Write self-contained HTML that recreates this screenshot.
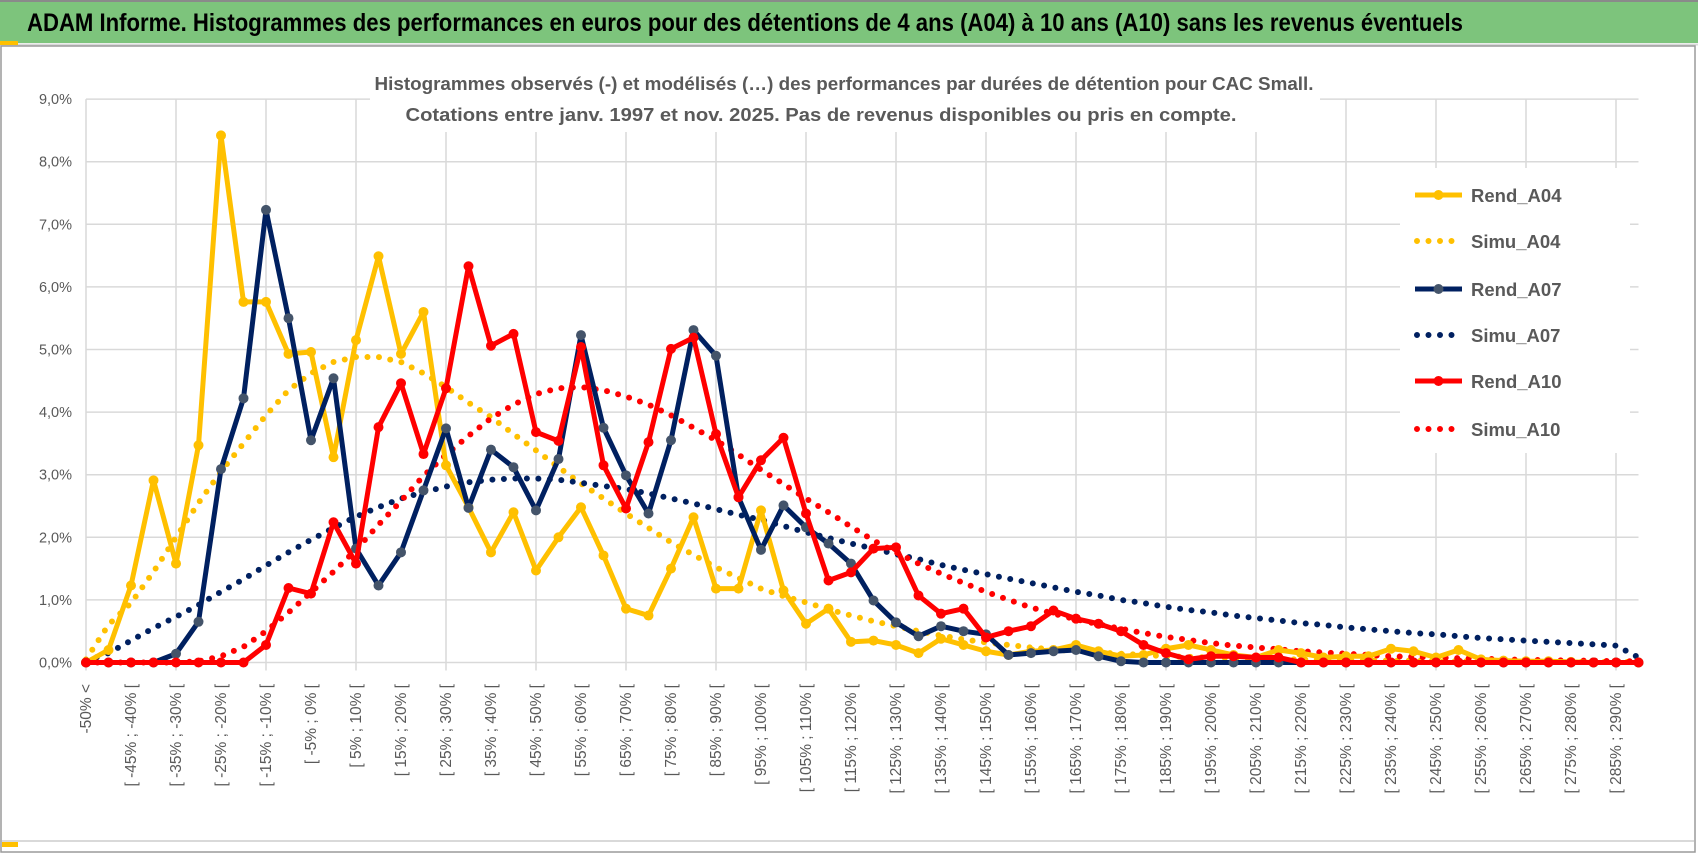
<!DOCTYPE html>
<html><head><meta charset="utf-8"><style>
html,body{margin:0;padding:0;background:#fff;}
svg{display:block;font-family:"Liberation Sans",sans-serif;}
</style></head><body>
<svg id="chart" width="1698" height="854" viewBox="0 0 1698 854" xmlns="http://www.w3.org/2000/svg">
<rect x="0" y="0" width="1698" height="854" fill="#fff"/>
<rect x="0" y="0" width="1698" height="43" fill="#7dc47c"/>
<line x1="0" y1="1" x2="1698" y2="1" stroke="#8a8a8a" stroke-width="2"/>
<line x1="0" y1="44.5" x2="1698" y2="44.5" stroke="#d9d9d9" stroke-width="2"/>
<rect x="0" y="41" width="18" height="4" fill="#ffc000"/>
<text x="27" y="31" font-size="25" font-weight="bold" fill="#000" textLength="1436" lengthAdjust="spacingAndGlyphs">ADAM Informe. Histogrammes des performances en euros pour des détentions de 4 ans (A04) à 10 ans (A10) sans les revenus éventuels</text>
<rect x="1" y="46" width="1694" height="806" fill="none" stroke="#9a9a9a" stroke-width="1.5"/>
<line x1="2" y1="841" x2="1694" y2="841" stroke="#d9d9d9" stroke-width="2"/>
<rect x="2" y="842" width="16" height="5" fill="#ffc000"/>
<g id="grid"></g>
<g id="yaxis"></g>
<g id="xaxis"></g>
<g id="series"></g>
<rect x="370" y="60" width="950" height="72" fill="#fff"/>
<text x="844" y="90" text-anchor="middle" font-size="18.5" font-weight="bold" fill="#595959" textLength="939" lengthAdjust="spacingAndGlyphs">Histogrammes observés (-) et modélisés (…) des performances par durées de détention pour CAC Small.</text>
<text x="821" y="121" text-anchor="middle" font-size="18.5" font-weight="bold" fill="#595959" textLength="831" lengthAdjust="spacingAndGlyphs">Cotations entre janv. 1997 et nov. 2025. Pas de revenus disponibles ou pris en compte.</text>
<g id="legend"></g>
</svg>
<script>
const categories = ["-50% <"];
for (let k = -50; k < 295; k += 5) categories.push("[ " + k + "% ; " + (k + 5) + "% [");
const yTicks = ["0,0%","1,0%","2,0%","3,0%","4,0%","5,0%","6,0%","7,0%","8,0%","9,0%"];
const yTickValues = [0,1,2,3,4,5,6,7,8,9];
const rendA04 = [0,0.2,1.23,2.91,1.58,3.47,8.42,5.76,5.76,4.93,4.96,3.28,5.15,6.49,4.93,5.6,3.15,2.48,1.76,2.4,1.47,2.0,2.48,1.71,0.86,0.75,1.5,2.32,1.18,1.18,2.43,1.15,0.62,0.86,0.33,0.35,0.28,0.15,0.38,0.28,0.18,0.12,0.18,0.2,0.28,0.18,0.1,0.12,0.22,0.28,0.2,0.12,0.08,0.2,0.15,0.08,0.1,0.1,0.22,0.18,0.08,0.2,0.05,0.03,0.02,0.02,0.01,0,0,0];
const simuA04 = [0.05,0.6,0.95,1.45,2.0,2.55,3.05,3.5,3.95,4.35,4.62,4.8,4.88,4.88,4.8,4.62,4.4,4.15,3.92,3.65,3.39,3.12,2.86,2.62,2.38,2.15,1.92,1.72,1.52,1.35,1.18,1.06,0.96,0.85,0.75,0.66,0.58,0.5,0.43,0.37,0.32,0.28,0.24,0.21,0.18,0.16,0.14,0.12,0.1,0.09,0.08,0.07,0.06,0.05,0.05,0.04,0.04,0.03,0.03,0.03,0.02,0.02,0.02,0.02,0.01,0.01,0.01,0.01,0.01,0.01];
const rendA07 = [0,0,0,0,0.14,0.65,3.09,4.22,7.23,5.5,3.55,4.54,1.82,1.23,1.76,2.75,3.74,2.47,3.4,3.12,2.43,3.25,5.23,3.75,2.99,2.38,3.55,5.31,4.9,2.64,1.8,2.51,2.16,1.9,1.58,0.99,0.64,0.42,0.58,0.5,0.45,0.12,0.15,0.18,0.2,0.1,0.02,0,0,0,0,0,0,0,0,0,0,0,0,0,0,0,0,0,0,0,0,0,0,0];
const simuA07 = [0.03,0.15,0.35,0.55,0.73,0.92,1.13,1.33,1.55,1.76,1.96,2.15,2.33,2.48,2.62,2.72,2.81,2.88,2.92,2.94,2.94,2.92,2.87,2.82,2.77,2.7,2.62,2.54,2.45,2.36,2.28,2.18,2.08,1.99,1.9,1.82,1.73,1.65,1.56,1.48,1.41,1.34,1.27,1.2,1.13,1.07,1.0,0.95,0.89,0.84,0.8,0.75,0.71,0.67,0.63,0.6,0.56,0.53,0.5,0.47,0.45,0.42,0.39,0.37,0.35,0.33,0.31,0.29,0.27,0.08];
const rendA10 = [0,0,0,0,0,0,0,0,0.28,1.19,1.1,2.24,1.58,3.76,4.46,3.33,4.38,6.33,5.06,5.25,3.68,3.54,5.04,3.15,2.46,3.52,5.01,5.19,3.65,2.64,3.23,3.59,2.38,1.31,1.44,1.82,1.84,1.07,0.78,0.86,0.4,0.5,0.58,0.83,0.7,0.62,0.5,0.28,0.15,0.05,0.1,0.1,0.08,0.08,0,0,0,0,0,0,0,0,0,0,0,0,0,0,0,0];
const simuA10 = [0,0,0,0,0,0.02,0.1,0.25,0.5,0.8,1.12,1.45,1.8,2.2,2.58,2.98,3.32,3.62,3.9,4.12,4.29,4.38,4.4,4.35,4.25,4.12,3.95,3.75,3.55,3.32,3.08,2.85,2.62,2.4,2.17,1.95,1.76,1.58,1.42,1.27,1.13,1.0,0.88,0.78,0.69,0.61,0.54,0.47,0.41,0.36,0.31,0.27,0.24,0.21,0.18,0.16,0.14,0.12,0.1,0.09,0.08,0.07,0.06,0.05,0.04,0.04,0.03,0.03,0.02,0.02];
const seriesNames = ["Rend_A04","Simu_A04","Rend_A07","Simu_A07","Rend_A10","Simu_A10"];

const NS = "http://www.w3.org/2000/svg";
const X0 = 86, DX = 22.5, Y0 = 662.5, DY = 62.6;
const xS = i => X0 + DX * i;
const yS = v => Y0 - DY * v;
function mk(tag, attrs, parent) {
  const e = document.createElementNS(NS, tag);
  for (const k in attrs) e.setAttribute(k, attrs[k]);
  parent.appendChild(e);
  return e;
}
const grid = document.getElementById('grid');
const yaxis = document.getElementById('yaxis');
const xaxis = document.getElementById('xaxis');
const series = document.getElementById('series');
const legend = document.getElementById('legend');
const xEnd = xS(categories.length - 1);

yTickValues.forEach((v, k) => {
  const l = mk('line', {x1: X0, x2: xEnd, y1: yS(v), y2: yS(v), stroke: '#d9d9d9', 'stroke-width': 1.5}, grid);
  
  
  const t = mk('text', {x: 72, y: yS(v) + 5, 'text-anchor': 'end', 'font-size': 14.5, fill: '#595959'}, yaxis);
  t.textContent = yTicks[k];
  
  
});
for (let i = 0; i < categories.length; i += 4) {
  const l = mk('line', {x1: xS(i), x2: xS(i), y1: yS(9), y2: Y0 + 8, stroke: '#d9d9d9', 'stroke-width': 1.5}, grid);
  
  
}
categories.forEach((c, i) => {
  if (i % 2) return;
  const x = xS(i) + 5, y = 684;
  const t = mk('text', {x: x, y: y, 'text-anchor': 'end', 'font-size': 15.5, fill: '#595959', transform: 'rotate(-90 ' + x + ' ' + y + ')'}, xaxis);
  t.textContent = c;
  
  
});

function drawObserved(vals, color, mcolor, name) {
  const g = mk('g', {}, series);
  
  
  const pts = vals.map((v, i) => xS(i) + ',' + yS(v)).join(' ');
  mk('polyline', {points: pts, fill: 'none', stroke: color, 'stroke-width': 5, 'stroke-linejoin': 'round'}, g);
  vals.forEach((v, i) => {
    const c = mk('circle', {cx: xS(i), cy: yS(v), r: 5, fill: mcolor}, g);
    
    
  });
}
function drawSim(vals, color, name) {
  const pts = vals.map((v, i) => xS(i) + ',' + yS(v)).join(' ');
  const p = mk('polyline', {points: pts, fill: 'none', stroke: color, 'stroke-width': 6, 'stroke-linecap': 'round', 'stroke-dasharray': '0 11.5'}, series);
  
  
}
drawSim(simuA04, '#ffc000', 'simu-a04-line');
drawSim(simuA07, '#002060', 'simu-a07-line');
drawSim(simuA10, '#ff0000', 'simu-a10-line');
drawObserved(rendA04, '#ffc000', '#ffc000', 'rend-a04-line');
drawObserved(rendA07, '#002060', '#44546a', 'rend-a07-line');
drawObserved(rendA10, '#ff0000', '#ff0000', 'rend-a10-line');

const lbg = mk('rect', {x: 1400, y: 168, width: 230, height: 285, fill: '#fff'}, legend);


const legColors = ['#ffc000','#ffc000','#002060','#002060','#ff0000','#ff0000'];
const legY = [195, 241, 289, 335, 381, 429];
seriesNames.forEach((n, k) => {
  const g = mk('g', {}, legend);
  
  
  const y = legY[k];
  if (k % 2 === 0) {
    mk('line', {x1: 1415, x2: 1462, y1: y, y2: y, stroke: legColors[k], 'stroke-width': 5}, g);
    mk('circle', {cx: 1438.5, cy: y, r: 5, fill: k === 2 ? '#44546a' : legColors[k]}, g);
  } else {
    mk('line', {x1: 1417, x2: 1462, y1: y, y2: y, stroke: legColors[k], 'stroke-width': 6, 'stroke-linecap': 'round', 'stroke-dasharray': '0 11.5'}, g);
  }
  const t = mk('text', {x: 1471, y: y + 7, 'font-size': 18.5, 'font-weight': 'bold', fill: '#595959'}, g);
  t.textContent = n;
});
</script>
</body></html>
